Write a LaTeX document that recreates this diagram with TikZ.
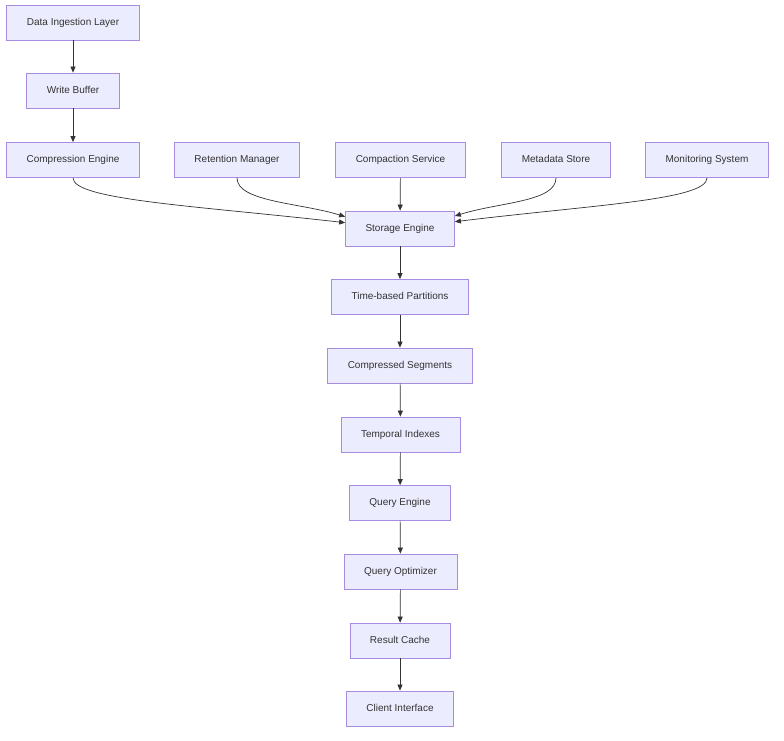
\documentclass[tikz,border=0pt]{standalone}
\usepackage{fontspec}
\setmainfont{Liberation Sans}
\usepackage{tikz}
\usetikzlibrary{arrows.meta, positioning}
\usepackage{xcolor}
\definecolor{boxbg}  {RGB}{236,236,255}
\definecolor{boxbdr} {RGB}{167,140,226}
\definecolor{clrTxt} {RGB}{ 51, 51, 51}
\definecolor{clrEdge}{RGB}{ 51, 51, 51}
\tikzset{
  boxnode/.style={rectangle, draw=boxbdr, fill=boxbg, line width=0.8pt,
    font=\fontsize{10}{12}\selectfont, text=clrTxt, minimum height=35pt,
    text height=7.4pt, text depth=1.8pt, inner xsep=20pt, inner ysep=4pt},
  arr/.style={-{Triangle[length=6pt,width=5pt]}, line width=0.7pt, color=clrEdge},
}
\begin{document}
\begin{tikzpicture}[x=1pt,y=1pt]
\useasboundingbox (0,0) rectangle (784,-740);
% ingestion path
\node[boxnode] (dil)  at (73,-22.5)  {Data Ingestion Layer};
\node[boxnode] (wbuf) at (73,-90.5)  {Write Buffer};
% top row of services
\node[boxnode] (ceng)   at (73,-160)    {Compression Engine};
\node[boxnode] (rman)   at (237,-160)   {Retention Manager};
\node[boxnode] (csvc)   at (400.5,-160) {Compaction Service};
\node[boxnode] (mstore) at (556,-160)   {Metadata Store};
\node[boxnode] (msys)   at (707,-160)   {Monitoring System};
% storage / query spine
\node[boxnode] (seng)   at (400,-228.5)   {Storage Engine};
\node[boxnode] (tparts) at (400,-297)     {Time-based Partitions};
\node[boxnode] (csegs)  at (400,-365.5)   {Compressed Segments};
\node[boxnode] (tidx)   at (400.5,-434.5) {Temporal Indexes};
\node[boxnode] (qeng)   at (400,-503)     {Query Engine};
\node[boxnode] (qopt)   at (400.5,-571.5) {Query Optimizer};
\node[boxnode] (rcache) at (400,-640.5)   {Result Cache};
\node[boxnode] (cintf)  at (400,-708.5)   {Client Interface};
% straight edges
\draw[arr] (dil) -- (wbuf);
\draw[arr] (wbuf) -- (ceng);
\draw[arr] (csvc) -- (seng);
\draw[arr] (seng) -- (tparts);
\draw[arr] (tparts) -- (csegs);
\draw[arr] (csegs) -- (tidx);
\draw[arr] (tidx) -- (qeng);
\draw[arr] (qeng) -- (qopt);
\draw[arr] (qopt) -- (rcache);
\draw[arr] (rcache) -- (cintf);
% curved edges into the storage engine
\draw[arr] (ceng.south) .. controls +(0,-22) and +(-150,17) .. ([yshift=5.8pt]seng.west);
\draw[arr] (rman.south) .. controls +(0,-24) and +(-45,14) .. ([yshift=11.8pt]seng.west);
\draw[arr] (mstore.south) .. controls +(0,-24) and +(45,14) .. ([yshift=12.5pt]seng.east);
\draw[arr] (msys.south) .. controls +(0,-22) and +(140,17) .. ([yshift=6.8pt]seng.east);
\end{tikzpicture}
\end{document}
